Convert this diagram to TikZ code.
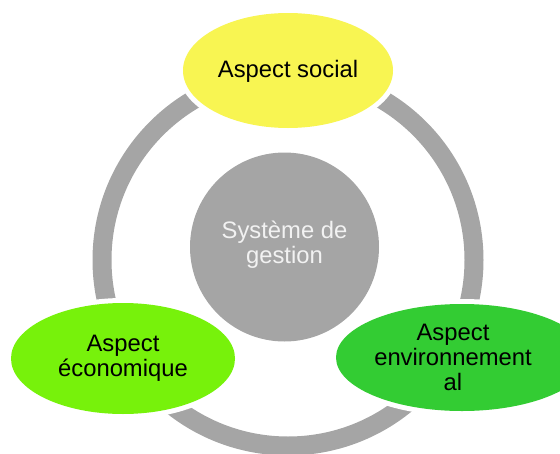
\documentclass[tikz,border=0pt]{standalone}
\usepackage{fontspec}
\setmainfont{Liberation Sans}
\usetikzlibrary{shapes.geometric}
\definecolor{ringgray}{HTML}{A5A5A5}
\definecolor{socialyellow}{HTML}{F8F552}
\definecolor{ecolime}{HTML}{77F20B}
\definecolor{envgreen}{HTML}{33CC33}
\definecolor{centretext}{HTML}{F2F2F2}
\tikzset{
  aspect/.style={ellipse, inner sep=0pt, outer sep=0pt, align=center,
    preaction={draw=white, line width=10pt}, text=black,
    font=\fontsize{23.8}{25}\selectfont},
  txt/.style={inner sep=0pt, align=center, font=\fontsize{23.8}{25}\selectfont},
  centre/.style={circle, fill=ringgray, inner sep=0pt, minimum size=189pt,
    text=centretext, align=center, font=\fontsize{23.8}{25}\selectfont},
}
\begin{document}
\begin{tikzpicture}[x=1pt,y=-1pt]
\useasboundingbox (0,0) rectangle (560,453);
\clip (0,0) rectangle (560,453);
% cycle ring
\coordinate (ringc) at (288,260);
\draw[ringgray, line width=19pt] (ringc) circle[radius=186];
% centre
\node[centre] (sys) at (284.5,247) {};
\node[txt, text=centretext] (systxt) at (284.5,245) {Système de\\gestion};
% aspects
\node[aspect, fill=socialyellow, minimum width=210pt, minimum height=115pt] (soc) at (288,70.5) {};
\node[txt] (soctxt) at (288,71) {Aspect social};
\node[aspect, fill=ecolime, minimum width=224pt, minimum height=111pt] (eco) at (123,358.5) {};
\node[txt] (ecotxt) at (123,358) {Aspect\\économique};
\node[aspect, fill=envgreen, minimum width=252pt, minimum height=107pt] (env) at (462,357.5) {};
\node[txt] (envtxt) at (453,357) {Aspect\\environnement\\al};
\end{tikzpicture}
\end{document}
